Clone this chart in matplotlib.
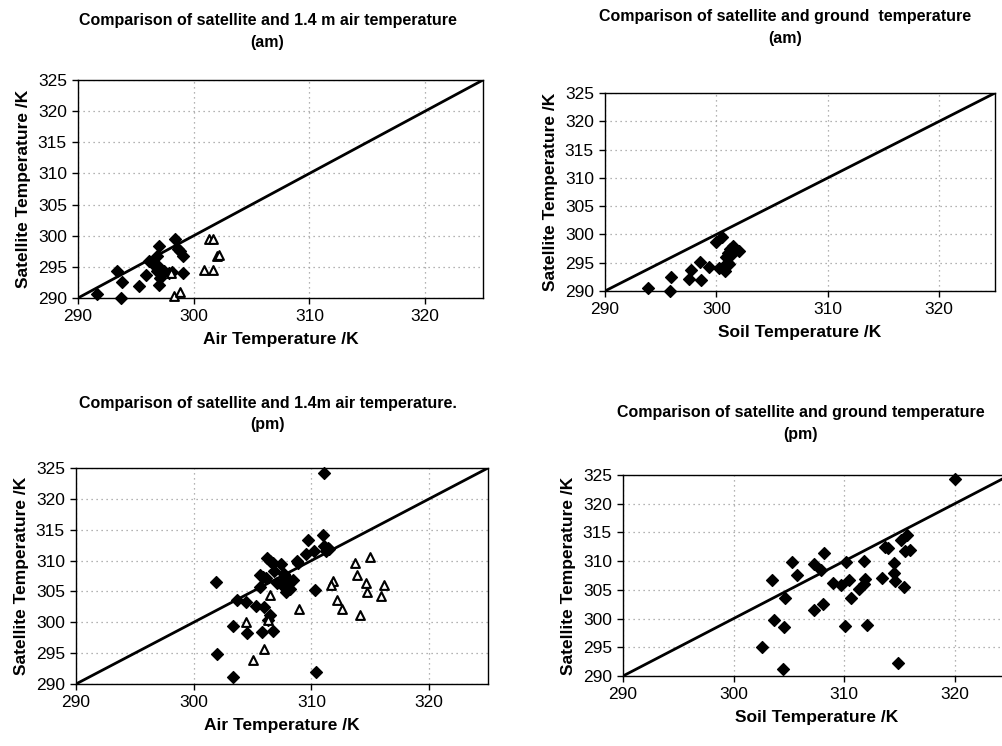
import matplotlib
matplotlib.use("Agg")
import matplotlib.pyplot as plt
import numpy as np

plt.rcParams['font.family'] = ['Liberation Sans', 'DejaVu Sans']

# am, 1.4 m air temperature vs satellite
am_air_x = [291.6, 293.7, 293.4, 293.8, 295.3, 295.9, 296.1, 296.4, 296.8, 297.0, 296.9,
            296.8, 297.1, 297.0, 297.4, 297.9, 298.4, 298.6, 298.8, 299.1, 299.1, 298.1]
am_air_y = [290.6, 290.0, 294.3, 292.6, 291.9, 293.7, 295.9, 295.6, 296.7, 298.4, 295.1,
            294.3, 293.2, 292.1, 294.3, 294.0, 299.4, 297.8, 297.5, 296.7, 294.0, 294.1]
am_air_tri_x = [298.0, 298.3, 298.8, 301.3, 301.7, 302.0, 302.2, 300.9, 301.7]
am_air_tri_y = [294.0, 290.4, 290.9, 299.5, 299.5, 296.7, 296.9, 294.5, 294.5]

# am, soil temperature vs satellite
am_soil_x = [293.9, 295.8, 295.9, 297.5, 297.7, 298.5, 298.6, 299.3, 300.0, 300.5, 300.2,
             300.8, 300.9, 301.0, 301.2, 301.1, 301.4, 301.5, 301.0, 302.0, 300.6]
am_soil_y = [290.5, 290.0, 292.5, 292.1, 293.8, 295.2, 292.0, 294.2, 298.7, 299.6, 294.0,
             293.5, 296.0, 295.0, 297.5, 294.8, 296.5, 298.0, 296.8, 297.0, 294.3]

# pm, 1.4 m air temperature vs satellite
pm_air_x = [311.0, 309.7, 310.2, 309.5, 311.1, 311.4, 311.5, 311.2, 308.8, 308.9, 306.2,
            306.5, 306.7, 307.4, 306.8, 305.6, 305.9, 306.1, 307.7, 308.0, 308.4, 307.1,
            307.5, 307.7, 307.8, 308.2, 305.6, 310.3, 303.7, 304.4, 305.3, 306.0, 306.5,
            306.3, 303.3, 304.5, 305.8, 306.7, 303.3, 310.4, 301.9, 302.0, 311.1]
pm_air_y = [314.2, 313.3, 311.6, 311.0, 312.4, 312.1, 311.8, 311.6, 309.9, 309.6, 310.4,
            310.0, 309.6, 309.4, 308.3, 307.7, 307.3, 307.1, 307.9, 307.0, 306.9, 306.3,
            306.5, 305.7, 304.9, 305.4, 305.7, 305.3, 303.6, 303.3, 302.7, 302.4, 301.2,
            300.4, 299.4, 298.2, 298.5, 298.6, 291.2, 291.9, 306.6, 294.9, 324.2]
pm_air_tri_x = [315.0, 313.7, 313.9, 311.8, 311.7, 314.6, 316.2, 314.7, 315.9, 312.2,
                312.6, 314.1, 306.5, 308.95, 304.4, 306.3, 306.0, 305.0]
pm_air_tri_y = [310.5, 309.6, 307.7, 306.7, 306.1, 306.4, 306.0, 304.9, 304.2, 303.6,
                302.1, 301.1, 304.5, 302.2, 300.1, 300.3, 295.7, 293.9]

# pm, soil temperature vs satellite
pm_soil_x = [302.6, 304.5, 303.5, 303.7, 304.65, 304.6, 305.3, 305.7, 307.3, 307.9, 308.2,
             307.3, 308.1, 309.0, 309.7, 310.2, 310.4, 310.6, 310.1, 311.3, 311.8, 311.9,
             311.8, 312.1, 313.4, 313.7, 314.0, 314.5, 314.5, 314.6, 315.1, 315.7, 315.5,
             315.4, 314.9, 316.0, 320.0]
pm_soil_y = [295.0, 291.3, 306.8, 299.7, 303.5, 298.5, 309.8, 307.5, 309.5, 308.5, 311.4,
             301.5, 302.6, 306.25, 305.9, 309.8, 306.8, 303.65, 298.7, 305.2, 306.0, 306.9,
             310.1, 298.9, 307.1, 312.5, 312.25, 309.7, 307.9, 306.5, 313.7, 314.6, 311.7,
             305.5, 292.3, 312.0, 324.3]

one_to_one = [290, 325]
y_ticks = [290, 295, 300, 305, 310, 315, 320, 325]
x_ticks = [290, 300, 310, 320]

W, H = 1003, 746
fig = plt.figure(figsize=(W / 100, H / 100), dpi=100)


def box(left, right, top, bottom):
    # pixel box -> figure fraction
    return [left / W, 1 - bottom / H, (right - left) / W, (bottom - top) / H]


def panel(rect, title, xlabel, xs, ys, tri_x=None, tri_y=None, title_gap=30, title_x=0.465):
    ax = fig.add_axes(rect)
    ax.set_xlim(290, 325)
    ax.set_ylim(290, 325)
    ax.set_xticks(x_ticks)
    ax.set_yticks(y_ticks)
    ax.grid(True, color='#9a9a9a', linestyle=(0, (1, 3)), linewidth=0.9)
    ax.set_axisbelow(True)
    for s in ax.spines.values():
        s.set_color('black')
        s.set_linewidth(1.0)
    ax.tick_params(direction='out', length=4, width=1, labelsize=12.5, pad=4)
    ax.plot(one_to_one, one_to_one, color='black', linewidth=2, zorder=3)
    ax.scatter(xs, ys, marker='D', s=36, color='black', zorder=4, clip_on=False)
    if tri_x is not None:
        ax.scatter(tri_x, tri_y, marker='^', s=40, facecolor='white',
                   edgecolor='black', linewidth=1.5, zorder=4, clip_on=False)
    # chart titles sit centred over the whole chart, a little left of the plot centre
    ax.set_title(title, fontsize=11.5, fontweight='bold', pad=title_gap,
                 linespacing=1.55, x=title_x)
    ax.set_xlabel(xlabel, fontsize=12.5, fontweight='bold', labelpad=6)
    ax.set_ylabel('Satellite Temperature /K', fontsize=12.5, fontweight='bold', labelpad=5)
    return ax


panel(box(78, 483, 80, 298),
      'Comparison of satellite and 1.4 m air temperature\n(am)',
      'Air Temperature /K', am_air_x, am_air_y, am_air_tri_x, am_air_tri_y,
      title_gap=24, title_x=0.468)
panel(box(605, 995, 93, 291),
      'Comparison of satellite and ground  temperature\n(am)',
      'Soil Temperature /K', am_soil_x, am_soil_y, title_gap=36, title_x=0.462)
panel(box(76, 488, 468, 684),
      'Comparison of satellite and 1.4m air temperature.\n(pm)',
      'Air Temperature /K', pm_air_x, pm_air_y, pm_air_tri_x, pm_air_tri_y,
      title_gap=28, title_x=0.466)
panel(box(623, 1010, 475, 676),
      'Comparison of satellite and ground temperature\n(pm)',
      'Soil Temperature /K', pm_soil_x, pm_soil_y, title_gap=26, title_x=0.459)

fig.savefig('out.png', dpi=100)
